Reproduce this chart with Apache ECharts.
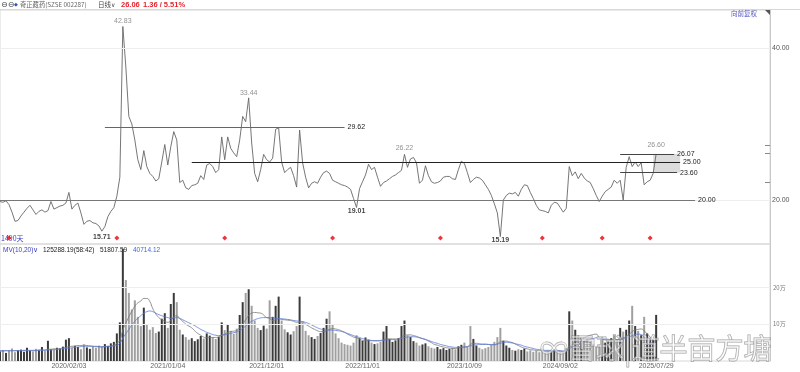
<!DOCTYPE html>
<html><head><meta charset="utf-8">
<script src="https://cdn.jsdelivr.net/npm/echarts@6/dist/echarts.min.js"></script>
<style>html,body{margin:0;padding:0;background:#fff}#c{width:800px;height:372px}</style>
</head><body><div id="c"></div>
<script>
// ---- data (one sample every ~7 trading days) ----
const closes = [
19.8,19.7,19.9,19.4,18.4,17.2,17.3,17.9,18.4,18.9,
19.3,18.7,18.1,18.5,18.7,18.4,18.6,19.8,18.8,19.0,
19.2,19.3,19.6,21.0,18.8,19.3,19.6,18.3,16.8,17.2,
17.3,17.0,16.9,16.6,15.9,16.5,17.8,18.5,19.0,20.5,
23.0,42.83,37.5,31.0,30.0,27.9,25.3,24.0,26.5,24.4,
23.5,23.1,22.5,22.8,25.0,27.3,24.6,27.0,29.0,27.9,
22.3,22.6,21.6,21.4,21.9,22.0,22.2,23.2,22.7,24.6,
24.8,24.4,23.6,24.0,28.3,25.3,28.3,26.8,26.2,25.7,
27.9,31.0,30.3,33.44,27.5,23.5,22.4,24.0,26.0,25.3,
25.0,25.5,29.3,29.5,25.0,23.6,24.0,24.3,23.2,21.7,
29.2,24.9,23.0,21.6,22.2,22.4,22.2,23.0,23.6,23.8,
23.5,22.6,22.4,22.2,22.0,21.9,21.7,21.4,20.2,19.01,
21.5,22.4,23.3,24.7,24.0,24.3,23.0,21.8,22.3,22.5,
22.8,23.1,23.3,23.6,23.9,26.0,24.3,25.4,25.6,24.9,
22.2,22.6,24.5,23.2,22.4,22.2,22.3,22.5,23.0,23.1,
23.1,22.8,22.7,24.0,25.1,24.8,23.6,22.3,22.7,23.0,
22.9,22.6,22.0,21.4,20.6,19.5,18.3,15.19,20.0,20.6,
20.9,20.8,21.0,20.5,21.4,22.0,21.9,21.0,20.2,19.3,
18.7,18.6,18.5,18.3,19.3,19.7,19.6,19.0,18.4,18.9,
24.4,23.2,23.7,22.8,23.5,22.9,22.5,22.3,21.5,20.6,
19.8,20.5,21.1,21.4,21.7,22.6,22.2,22.6,20.0,24.3,
25.7,24.4,25.0,24.4,24.9,22.0,22.4,22.6,23.5,26.06
];
// volume, unit: 万
const volumes = [
2.6,3.0,2.2,2.8,3.4,2.4,2.9,3.1,2.5,3.6,
2.8,2.6,3.3,2.9,3.8,2.7,5.5,3.2,3.0,3.6,
3.4,3.9,5.8,6.2,3.5,4.1,3.8,3.2,4.5,3.7,
3.3,3.9,3.6,4.2,3.8,4.6,4.1,4.8,5.2,7.5,
10.5,30.5,22.0,18.5,14.0,16.5,12.0,9.5,14.5,10.0,
8.5,9.2,7.6,8.0,11.5,13.0,9.0,15.5,18.5,16.0,
8.5,7.2,6.5,5.8,6.2,5.4,5.9,6.8,6.1,7.5,
6.9,6.4,6.0,6.6,10.5,8.4,9.8,8.2,7.4,8.8,
12.5,16.0,18.5,19.5,15.0,11.0,9.0,8.4,9.6,8.8,
16.5,12.0,15.0,17.5,11.0,8.6,7.8,7.2,8.1,9.5,
17.5,10.5,8.2,7.0,6.5,6.0,6.8,7.6,9.0,11.5,
13.5,10.0,7.5,6.2,5.0,4.6,4.4,4.2,5.0,7.0,
6.2,5.5,6.4,5.8,5.0,4.6,4.8,5.2,8.0,9.5,
6.0,5.2,5.6,6.2,9.5,11.0,7.0,6.5,5.4,5.0,
4.2,4.5,4.8,4.0,3.6,3.4,3.8,3.2,3.5,3.0,
3.3,3.6,3.2,4.0,4.4,5.0,3.8,9.5,6.0,4.2,
3.6,3.2,3.5,3.8,4.4,5.2,6.5,9.0,5.5,4.2,
3.6,3.0,2.8,3.2,3.0,3.4,2.6,2.9,2.5,2.8,
2.4,2.7,2.3,2.6,2.8,3.2,2.7,2.4,2.6,3.5,
13.5,11.0,8.5,7.0,6.4,5.5,6.0,5.2,4.6,4.0,
4.4,6.5,5.0,5.6,6.2,7.0,5.8,9.0,8.0,8.5,
11.0,15.0,9.5,8.2,7.0,12.0,7.5,6.2,5.8,12.53
];
const ma10 = [
2.7,2.7,2.8,2.8,2.8,2.8,2.8,2.8,2.9,2.9,
2.9,2.9,2.9,3.0,3.0,3.0,3.2,3.2,3.3,3.3,
3.4,3.5,3.7,3.9,4.0,4.1,4.2,4.2,4.3,4.2,
4.1,4.0,3.9,3.9,3.8,3.9,4.0,4.1,4.3,4.8,
5.6,8.4,10.3,12.0,13.5,14.9,15.8,16.3,17.0,17.0,
16.2,14.2,12.8,11.8,11.2,10.8,10.5,11.0,12.0,12.3,
11.5,10.8,10.0,9.5,9.0,8.2,7.5,7.0,6.5,6.3,
6.4,6.4,6.4,6.5,7.0,7.3,7.7,8.0,8.1,8.3,
9.0,10.0,11.2,12.4,13.0,13.2,13.1,13.0,12.5,11.8,
11.6,11.0,11.2,11.5,11.3,11.2,11.1,11.0,10.8,10.5,
10.6,10.6,10.0,9.5,9.0,8.6,8.2,8.0,8.0,8.2,
8.6,8.8,8.7,8.5,8.2,7.8,7.3,6.9,6.5,6.3,
6.0,5.6,5.5,5.5,5.5,5.5,5.5,5.6,5.8,6.0,
6.0,6.0,6.0,6.1,6.5,7.0,7.1,7.1,6.9,6.7,
6.4,6.1,5.8,5.4,5.0,4.5,4.3,4.0,3.8,3.6,
3.5,3.4,3.4,3.5,3.6,3.8,3.9,4.5,4.8,4.8,
4.7,4.6,4.6,4.5,4.4,4.4,4.7,5.2,5.4,5.4,
5.2,5.0,4.6,4.2,3.8,3.5,3.3,3.1,3.0,2.9,
2.8,2.8,2.7,2.7,2.7,2.7,2.7,2.7,2.6,2.7,
3.8,4.6,5.2,5.7,6.1,6.4,6.7,7.0,7.2,7.3,
6.4,6.0,5.7,5.6,5.6,5.7,5.7,6.0,6.3,6.6,
7.2,8.0,8.4,8.6,8.7,8.2,7.4,6.5,5.6,5.18
];
const ma20 = [
2.8,2.8,2.8,2.8,2.8,2.8,2.8,2.8,2.8,2.8,
2.8,2.8,2.8,2.9,2.9,2.9,3.0,3.0,3.1,3.1,
3.2,3.3,3.4,3.5,3.6,3.7,3.8,3.9,4.0,4.0,
4.0,4.0,4.0,3.9,3.9,3.9,3.9,4.0,4.1,4.3,
4.8,6.2,7.4,8.6,9.8,10.8,11.6,12.3,13.0,13.4,
13.6,13.4,13.0,12.6,12.3,12.0,11.8,11.6,11.7,11.8,
11.6,11.2,10.8,10.4,10.0,9.6,9.1,8.6,8.2,7.8,
7.5,7.2,7.0,6.9,7.0,7.1,7.3,7.5,7.7,7.9,
8.3,8.8,9.5,10.2,10.8,11.2,11.5,11.7,11.8,11.8,
11.8,11.7,11.6,11.5,11.5,11.4,11.3,11.2,11.0,10.9,
10.8,10.7,10.5,10.2,9.8,9.4,9.0,8.7,8.5,8.4,
8.4,8.4,8.3,8.2,8.0,7.8,7.5,7.2,6.9,6.6,
6.4,6.1,5.9,5.7,5.6,5.5,5.5,5.5,5.6,5.7,
5.8,5.8,5.8,5.9,6.1,6.4,6.5,6.6,6.6,6.5,
6.3,6.1,5.9,5.6,5.3,5.0,4.8,4.5,4.3,4.1,
3.9,3.8,3.7,3.7,3.7,3.8,3.9,4.1,4.3,4.4,
4.5,4.5,4.5,4.5,4.5,4.5,4.6,4.8,5.0,5.1,
5.0,4.9,4.7,4.5,4.3,4.0,3.8,3.6,3.4,3.2,
3.1,3.0,2.9,2.9,2.8,2.8,2.8,2.8,2.7,2.8,
3.3,3.8,4.2,4.6,5.0,5.3,5.6,5.9,6.1,6.3,
6.2,6.1,6.0,5.9,5.8,5.8,5.8,5.9,6.0,6.2,
6.5,6.9,7.2,7.3,7.2,6.6,5.9,5.0,4.4,4.07
];
const dateLabels = ['2020/02/03','2021/01/04','2021/12/01','2022/11/01','2023/10/09','2024/09/02','2025/07/29'];
const dateLabelIdx = [23, 56, 89, 121, 155, 187, 219];
const totalSlots = 258;
const highIdx = [41, 83, 135, 219];
const highVals = [42.83, 33.44, 26.22, 26.60];
const lowIdx = [34, 119, 167];
const lowVals = [15.71, 19.01, 15.19];
const markerIdx = [3, 39, 75, 111, 147, 181, 201, 217];
const markerLevel = 15.0;
const levelVals = [29.62, 25.00, 20.00, 26.07, 23.60];
const levelFrom = [35, 64, 0, 207, 207];
const levelTo = [115, 227, 232, 225, 226];
const levelColor = ['#666', '#222', '#777', '#444', '#444'];
const boxFrom = 218, boxTo = 227, boxTop = 26.07, boxBottom = 23.60;
const priceTicks = [20, 40];
const volTicks = [10, 20];

// ---- build ----
const cats = Array.from({length: totalSlots}, (_, i) => {
  const k = dateLabelIdx.indexOf(i);
  return k >= 0 ? dateLabels[k] : '#' + i;
});
const volColors = volumes.map((v, i) => (i === 0 || closes[i] >= closes[i - 1]) ? '#3a3a3a' : '#a0a0a0');
const FONT = '"Liberation Sans", Arial, sans-serif';
const CJK = '"Noto Sans CJK SC", sans-serif';

const chart = echarts.init(document.getElementById('c'), null, {renderer: 'canvas'});
chart.setOption({
  animation: false,
  backgroundColor: '#fff',
  grid: [
    {left: 0, right: 30, top: 10, height: 234, show: true, borderColor: '#d8d8d8', borderWidth: 1},
    {left: 0, right: 30, top: 244, height: 117, show: true, borderColor: '#d8d8d8', borderWidth: 1}
  ],
  xAxis: [
    {type: 'category', gridIndex: 0, data: cats, boundaryGap: false,
     axisLine: {show: false}, axisTick: {show: false}, axisLabel: {show: false}, splitLine: {show: false}},
    {type: 'category', gridIndex: 1, data: cats, boundaryGap: false,
     axisLine: {show: false}, axisTick: {show: false}, splitLine: {show: false},
     axisLabel: {interval: (i) => dateLabelIdx.includes(i), color: '#666', fontSize: 7, margin: 2, fontFamily: FONT}}
  ],
  yAxis: [
    {type: 'value', gridIndex: 0, position: 'right', min: 14.21, max: 45, scale: true,
     axisLine: {show: true, lineStyle: {color: '#c8c8c8'}},
     axisTick: {show: true, inside: true, length: 5, customValues: [22.37, 26.18, 27.24], lineStyle: {color: '#888'}},
     splitLine: {show: false},
     axisLabel: {customValues: priceTicks, formatter: (v) => v.toFixed(2), color: '#555', fontSize: 7, margin: 2, fontFamily: FONT}},
    {type: 'value', gridIndex: 1, position: 'right', min: 0, max: 31.8,
     axisLine: {show: true, lineStyle: {color: '#c8c8c8'}},
     axisTick: {show: false}, splitLine: {show: false},
     axisLabel: {customValues: volTicks, formatter: (v) => v + '万', color: '#777', fontSize: 6, margin: 3, fontFamily: CJK}}
  ],
  series: [
    {type: 'line', name: 'price', xAxisIndex: 0, yAxisIndex: 0, data: closes, symbol: 'none',
     lineStyle: {color: '#666', width: 0.9}, z: 3,
     markArea: {silent: true, itemStyle: {color: '#dcdcdc'},
       data: [[{coord: [boxFrom, boxTop]}, {coord: [boxTo, boxBottom]}]]},
     markLine: {silent: true, symbol: ['none', 'none'], animation: false,
       data: [
         {yAxis: priceTicks[0], lineStyle: {color: '#eeeeee', width: 1, type: 'solid'}, label: {show: false}},
         {yAxis: priceTicks[1], lineStyle: {color: '#eeeeee', width: 1, type: 'solid'}, label: {show: false}}
       ].concat(levelVals.map((v, k) => [
         {coord: [levelFrom[k], v], lineStyle: {color: levelColor[k], width: 1, type: 'solid'},
          label: {show: true, position: 'end', formatter: v.toFixed(2), color: '#222', fontSize: 7, distance: 3, fontFamily: FONT}},
         {coord: [levelTo[k], v]}
       ]))}
    },
    {type: 'scatter', name: 'highs', xAxisIndex: 0, yAxisIndex: 0, symbolSize: 1, itemStyle: {color: 'rgba(0,0,0,0)'},
     data: highIdx.map((x, k) => [x, highVals[k]]), z: 5,
     label: {show: true, position: 'top', distance: 1, formatter: (p) => p.value[1].toFixed(2), color: '#777', fontSize: 7, fontFamily: FONT}},
    {type: 'scatter', name: 'lows', xAxisIndex: 0, yAxisIndex: 0, symbolSize: 1, itemStyle: {color: 'rgba(0,0,0,0)'},
     data: lowIdx.map((x, k) => [x, lowVals[k]]), z: 5,
     label: {show: true, position: 'bottom', distance: 0, formatter: (p) => p.value[1].toFixed(2), color: '#111', fontSize: 7, fontWeight: 'bold', fontFamily: FONT}},
    {type: 'scatter', name: 'marks', xAxisIndex: 0, yAxisIndex: 0, symbol: 'diamond', symbolSize: 5,
     itemStyle: {color: '#e8000b'}, data: markerIdx.map((x) => [x, markerLevel]), z: 6},
    {type: 'bar', name: 'vol', xAxisIndex: 1, yAxisIndex: 1, barWidth: 2,
     data: volumes.map((v, i) => ({value: v, itemStyle: {color: volColors[i]}})),
     markLine: {silent: true, symbol: ['none', 'none'], label: {show: false},
       lineStyle: {color: '#eeeeee', width: 1, type: 'solid'},
       data: volTicks.map((v) => ({yAxis: v}))}},
    {type: 'line', name: 'ma10', xAxisIndex: 1, yAxisIndex: 1, data: ma10, symbol: 'none', smooth: true,
     lineStyle: {color: '#777', width: 0.8}},
    {type: 'line', name: 'ma20', xAxisIndex: 1, yAxisIndex: 1, data: ma20, symbol: 'none', smooth: true,
     lineStyle: {color: '#5b78d6', width: 0.8}}
  ],
  graphic: [
    {type: 'line', shape: {x1: 0, y1: 9.5, x2: 800, y2: 9.5}, style: {stroke: '#d8d8d8', lineWidth: 1}},
    {type: 'text', style: {x: 1, y: 5, text: '⊖⊖', fill: '#444', font: '8px "DejaVu Sans"', verticalAlign: 'middle'}},
    {type: 'text', style: {x: 14, y: 5, text: '◆', fill: '#2f55c8', font: '5px "DejaVu Sans"', verticalAlign: 'middle'}},
    {type: 'text', style: {x: 20, y: 5, text: '奇正藏药(SZSE 002287)', fill: '#666', font: '6.3px ' + CJK, verticalAlign: 'middle'}},
    {type: 'text', style: {x: 98, y: 5, text: '日线', fill: '#444', font: '6.5px ' + CJK, verticalAlign: 'middle'}},
    {type: 'text', style: {x: 111, y: 5, text: '∨', fill: '#444', font: '6px "DejaVu Sans"', verticalAlign: 'middle'}},
    {type: 'text', style: {x: 121, y: 5, text: '26.06', fill: '#e8222b', font: 'bold 7.5px ' + FONT, verticalAlign: 'middle'}},
    {type: 'text', style: {x: 143, y: 5, text: '1.36 / 5.51%', fill: '#e8222b', font: 'bold 7.5px ' + FONT, verticalAlign: 'middle'}},
    {type: 'text', style: {x: 731, y: 14, text: '向前复权', fill: '#5353c3', font: '6.5px ' + CJK, verticalAlign: 'middle'}},
    {type: 'polygon', shape: {points: [[765, 10], [771, 10], [771, 16]]}, style: {fill: '#555'}},
    {type: 'text', style: {x: 1, y: 238, text: '1490天', fill: '#3a3ac0', font: '7px ' + CJK, verticalAlign: 'middle'}, z: 1},
    {type: 'text', style: {x: 3, y: 250, text: 'MV(10,20)∨', fill: '#3a3ac0', font: '6.5px ' + FONT, verticalAlign: 'middle'}},
    {type: 'text', style: {x: 43, y: 250, text: '125288.19(58:42)', fill: '#222', font: '6.5px ' + FONT, verticalAlign: 'middle'}},
    {type: 'text', style: {x: 100, y: 250, text: '51807.59', fill: '#222', font: '6.5px ' + FONT, verticalAlign: 'middle'}},
    {type: 'text', style: {x: 133, y: 250, text: '40714.12', fill: '#3a6ad6', font: '6.5px ' + FONT, verticalAlign: 'middle'}},
    {type: 'text', style: {x: 540, y: 348, text: '∞雪球|道半亩方塘', fill: 'rgba(255,255,255,0.5)', stroke: 'rgba(120,120,120,0.7)', lineWidth: 1, font: '28px ' + CJK, verticalAlign: 'middle'}, z: 100}
  ]
});
</script></body></html>
